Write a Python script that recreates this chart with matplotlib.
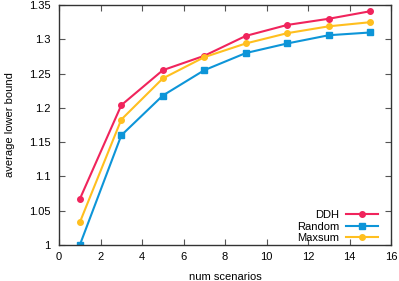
import matplotlib
matplotlib.use('Agg')
import matplotlib.pyplot as plt

# data
num_scenarios = [1, 3, 5, 7, 9, 11, 13, 15]
ddh = [1.067, 1.204, 1.255, 1.276, 1.305, 1.321, 1.330, 1.341]
random_ = [1.000, 1.160, 1.218, 1.255, 1.280, 1.294, 1.306, 1.310]
maxsum = [1.033, 1.183, 1.243, 1.274, 1.294, 1.309, 1.319, 1.325]

x_ticks = [0, 2, 4, 6, 8, 10, 12, 14, 16]
y_ticks = [1, 1.05, 1.1, 1.15, 1.2, 1.25, 1.3, 1.35]
y_tick_labels = ['1', '1.05', '1.1', '1.15', '1.2', '1.25', '1.3', '1.35']

plt.rcParams['font.family'] = ['Liberation Sans', 'DejaVu Sans']

fig = plt.figure(figsize=(3.99, 2.81), dpi=100)
ax = fig.add_axes([0.148, 0.128, 0.832, 0.854])

ax.plot(num_scenarios, ddh, color='#f0245c', marker='o', markersize=4,
        linewidth=1.5, label='DDH')
ax.plot(num_scenarios, random_, color='#0d95d8', marker='s', markersize=4,
        linewidth=1.5, label='Random')
ax.plot(num_scenarios, maxsum, color='#ffbf1f', marker='o', markersize=4,
        linewidth=1.5, label='Maxsum')

ax.set_xlim(0, 16)
ax.set_ylim(1, 1.35)
ax.set_xticks(x_ticks)
ax.set_yticks(y_ticks)
ax.set_yticklabels(y_tick_labels)
ax.tick_params(direction='in', length=4, width=0.8, labelsize=8,
               top=True, right=True, color='#555555')
ax.tick_params(axis='y', pad=6)
ax.tick_params(axis='x', pad=5)
for s in ax.spines.values():
    s.set_color('#333333')
    s.set_linewidth(1.0)

ax.set_xlabel('num scenarios', fontsize=8, labelpad=7)
ax.set_ylabel('average lower bound', fontsize=8, labelpad=10)

ax.legend(loc='lower right', frameon=False, fontsize=8, markerfirst=False,
          handlelength=2.9, labelspacing=0.12, borderaxespad=0,
          bbox_to_anchor=(0.975, -0.01), handletextpad=0.6)

fig.savefig('out.png', dpi=100)
